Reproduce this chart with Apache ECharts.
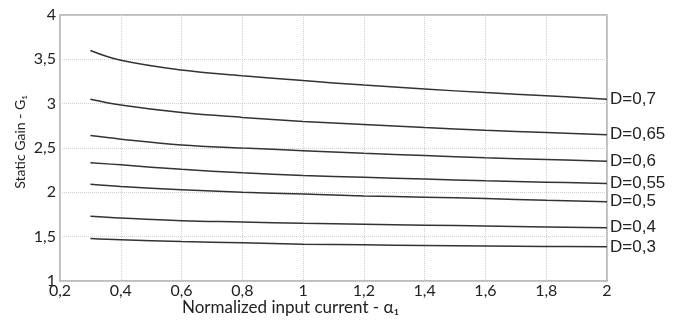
<!DOCTYPE html>
<html><head><meta charset="utf-8">
<script src="https://cdn.jsdelivr.net/npm/echarts@6/dist/echarts.min.js"></script>
<style>html,body{margin:0;padding:0;background:#fff}#c{width:680px;height:322px}</style>
</head><body><div id="c"></div>
<script>
const xValues = [0.3, 0.4, 0.6, 0.8, 1.0, 1.2, 1.4, 1.6, 1.8, 2.0];
const seriesNames = ['D=0,7', 'D=0,65', 'D=0,6', 'D=0,55', 'D=0,5', 'D=0,4', 'D=0,3'];
const d070 = [3.60, 3.49, 3.38, 3.315, 3.26, 3.21, 3.165, 3.125, 3.09, 3.05];
const d065 = [3.05, 2.985, 2.90, 2.845, 2.80, 2.765, 2.73, 2.70, 2.675, 2.65];
const d060 = [2.64, 2.60, 2.535, 2.50, 2.47, 2.44, 2.415, 2.39, 2.37, 2.35];
const d055 = [2.335, 2.31, 2.26, 2.22, 2.19, 2.17, 2.15, 2.13, 2.115, 2.10];
const d050 = [2.09, 2.065, 2.03, 2.00, 1.98, 1.96, 1.945, 1.93, 1.91, 1.895];
const d040 = [1.73, 1.71, 1.68, 1.665, 1.65, 1.64, 1.63, 1.62, 1.61, 1.60];
const d030 = [1.48, 1.465, 1.445, 1.43, 1.415, 1.408, 1.40, 1.395, 1.39, 1.385];
const allValues = [d070, d065, d060, d055, d050, d040, d030];

const fmt = v => String(+(+v).toFixed(1)).replace('.', ',');
const chart = echarts.init(document.getElementById('c'));
chart.setOption({
  animation: false,
  backgroundColor: '#fff',
  grid: { left: 60, right: 73, top: 15, bottom: 41, show: true, borderColor: '#a8a8a8', borderWidth: 1.5, backgroundColor: 'transparent' },
  xAxis: {
    type: 'value', min: 0.2, max: 2, interval: 0.2,
    axisLine: { show: false }, axisTick: { show: false },
    splitLine: { show: true, lineStyle: { color: '#d0d0d0', type: [1, 1], width: 1 } },
    axisLabel: { formatter: fmt, fontFamily: 'Lato', fontSize: 16, color: '#222', margin: 2 }
  },
  yAxis: {
    type: 'value', min: 1, max: 4, interval: 0.5,
    axisLine: { show: false }, axisTick: { show: false },
    splitLine: { show: true, lineStyle: { color: '#d0d0d0', type: [1, 1], width: 1 } },
    axisLabel: { formatter: fmt, fontFamily: 'Lato', fontSize: 16, color: '#222', margin: 4 }
  },
  graphic: [
    { type: 'text', left: 182, top: 299, style: { text: 'Normalized input current - α₁', font: '17px Lato', fill: '#222' } },
    { type: 'text', x: 20, y: 142, rotation: Math.PI / 2, style: { text: 'Static Gain - G₁', font: '14px Lato', fill: '#222', align: 'center', verticalAlign: 'middle' } }
  ],
  series: allValues.map((vals, i) => ({
    type: 'line', name: seriesNames[i], smooth: 0.4, showSymbol: false,
    data: xValues.map((x, j) => [x, vals[j]]),
    lineStyle: { color: '#333', width: 1.5 },
    endLabel: { show: true, formatter: seriesNames[i], fontFamily: 'Liberation Sans', fontSize: 17, color: '#222', distance: 3 }
  }))
});
</script></body></html>
